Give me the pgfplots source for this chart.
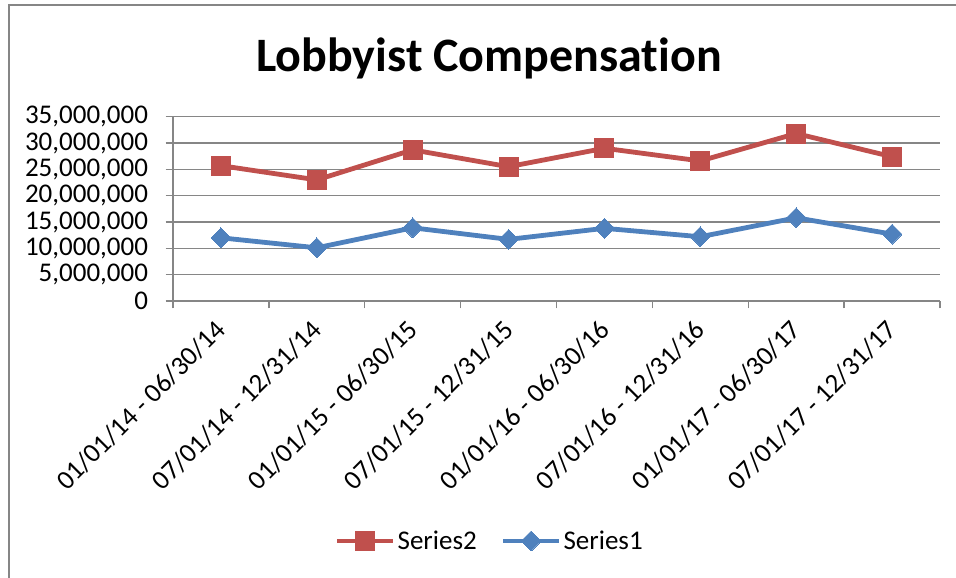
\documentclass[border=0pt]{standalone}
\usepackage{fontspec}
\setmainfont{Carlito}[Ligatures={NoCommon}]
\usepackage{pgfplots}
\pgfplotsset{compat=1.18}
\definecolor{sred}{HTML}{C0504D}
\definecolor{sblue}{HTML}{4F81BD}
\definecolor{gridgray}{HTML}{868686}
\begin{document}
\begin{tikzpicture}[x=1bp,y=1bp]
\useasboundingbox (0,0) rectangle (956,578);
\draw[gridgray, line width=1.6bp] (9,0) -- (9,573) -- (956,573);
\node[font=\fontsize{48bp}{57bp}\selectfont\bfseries, anchor=base] at (489,506) {Lobbyist Compensation};
\begin{axis}[
  at={(173bp,277bp)}, anchor=south west,
  scale only axis, width=767bp, height=184.3bp,
  xmin=0, xmax=8, ymin=0, ymax=35000000,
  axis x line=bottom, axis y line=left,
  axis line style={gridgray, line width=1.3bp, -},
  tick align=outside, major tick length=7.5bp,
  every tick/.style={gridgray, line width=1.3bp},
  ytick={0,5000000,10000000,15000000,20000000,25000000,30000000,35000000},
  scaled y ticks=false,
  yticklabel style={/pgf/number format/.cd, fixed, 1000 sep={,}, precision=0, assume math mode=true, /tikz/.cd, xshift=-14bp},
  ymajorgrids, grid style={gridgray, line width=1.3bp},
  tick label style={font=\fontsize{27bp}{32bp}\selectfont},
  xtick={0,1,2,3,4,5,6,7,8}, xticklabels={},
  extra x ticks={0.5,1.5,2.5,3.5,4.5,5.5,6.5,7.5},
  extra x tick labels={01/01/14 - 06/30/14,07/01/14 - 12/31/14,01/01/15 - 06/30/15,07/01/15 - 12/31/15,01/01/16 - 06/30/16,07/01/16 - 12/31/16,01/01/17 - 06/30/17,07/01/17 - 12/31/17},
  extra x tick style={major tick length=0pt, xmajorgrids=false, xticklabel style={xshift=-7bp, yshift=-17bp, rotate=45, anchor=north east, inner sep=0pt}},
  legend style={at={(0.413,-1.302)}, anchor=center, draw=none, fill=none, legend columns=2,
    font=\fontsize{27bp}{32bp}\selectfont, inner sep=0pt,
    /tikz/every even column/.append style={column sep=22bp},
    nodes={inner sep=2bp}},
  legend image code/.code={\draw[mark repeat=2,mark phase=2,#1] plot coordinates {(0bp,0bp) (28bp,0bp) (56bp,0bp)};},
]
\addplot[color=sred, line width=4.8bp, mark=square*, mark size=9.5bp, mark options={solid, line width=0pt}]
  coordinates {(0.5,25700000) (1.5,23000000) (2.5,28700000) (3.5,25500000) (4.5,29000000) (5.5,26600000) (6.5,31800000) (7.5,27400000)};
\addlegendentry{Series2}
\addplot[color=sblue, line width=4.8bp, mark=square*, mark size=7bp, mark options={solid, rotate=45, line width=0pt}]
  coordinates {(0.5,12000000) (1.5,10100000) (2.5,13900000) (3.5,11700000) (4.5,13800000) (5.5,12200000) (6.5,15800000) (7.5,12700000)};
\addlegendentry{Series1}
\end{axis}
\end{tikzpicture}
\end{document}
